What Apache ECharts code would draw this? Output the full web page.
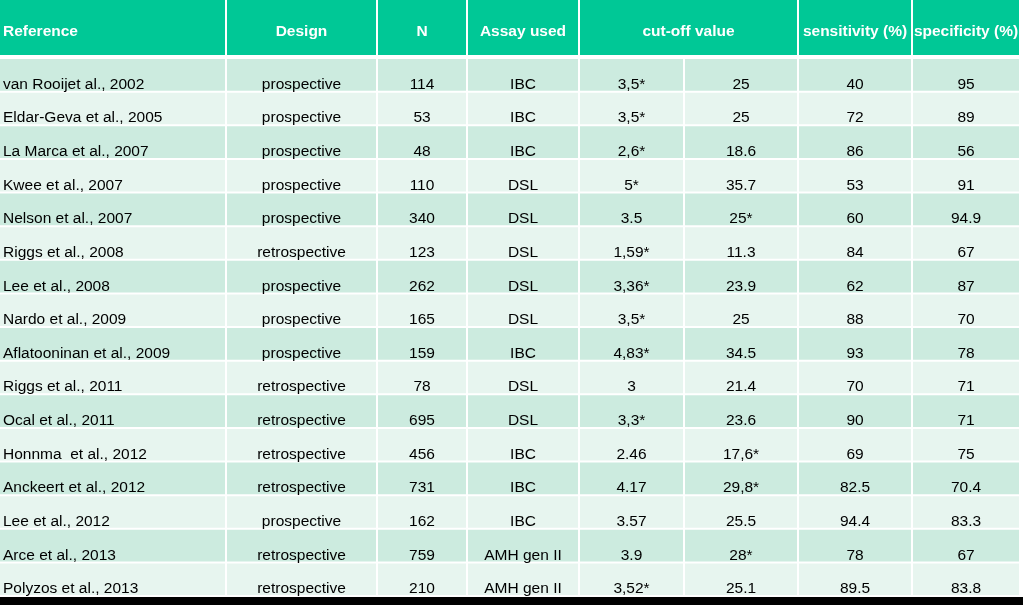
<!DOCTYPE html>
<html>
<head>
<meta charset="utf-8">
<script src="https://cdn.jsdelivr.net/npm/echarts@6/dist/echarts.min.js"></script>
<style>
html,body{margin:0;padding:0;background:#000;}
#chart{width:1023px;height:597px;background:#fff;}
</style>
</head>
<body>
<div id="chart"></div>
<script>
// ---- data ----
const headers = ['Reference', 'Design', 'N', 'Assay used', 'cut-off value', 'sensitivity (%)', 'specificity (%)'];
const references = ['van Rooijet al., 2002', 'Eldar-Geva et al., 2005', 'La Marca et al., 2007', 'Kwee et al., 2007',
  'Nelson et al., 2007', 'Riggs et al., 2008', 'Lee et al., 2008', 'Nardo et al., 2009', 'Aflatooninan et al., 2009',
  'Riggs et al., 2011', 'Ocal et al., 2011', 'Honnma  et al., 2012', 'Anckeert et al., 2012', 'Lee et al., 2012',
  'Arce et al., 2013', 'Polyzos et al., 2013'];
const designs = ['prospective', 'prospective', 'prospective', 'prospective', 'prospective', 'retrospective',
  'prospective', 'prospective', 'prospective', 'retrospective', 'retrospective', 'retrospective', 'retrospective',
  'prospective', 'retrospective', 'retrospective'];
const nValues = [114, 53, 48, 110, 340, 123, 262, 165, 159, 78, 695, 456, 731, 162, 759, 210];
const assays = ['IBC', 'IBC', 'IBC', 'DSL', 'DSL', 'DSL', 'DSL', 'DSL', 'IBC', 'DSL', 'DSL', 'IBC', 'IBC', 'IBC',
  'AMH gen II', 'AMH gen II'];
const cutoffA = ['3,5*', '3,5*', '2,6*', '5*', '3.5', '1,59*', '3,36*', '3,5*', '4,83*', '3', '3,3*', '2.46', '4.17',
  '3.57', '3.9', '3,52*'];
const cutoffB = ['25', '25', '18.6', '35.7', '25*', '11.3', '23.9', '25', '34.5', '21.4', '23.6', '17,6*', '29,8*',
  '25.5', '28*', '25.1'];
const sensitivity = ['40', '72', '86', '53', '60', '84', '62', '88', '93', '70', '90', '69', '82.5', '94.4', '78', '89.5'];
const specificity = ['95', '89', '56', '91', '94.9', '67', '87', '70', '78', '71', '71', '75', '70.4', '83.3', '67', '83.8'];

// ---- layout ----
const colEdges = [0, 227, 378, 468, 580, 685, 799, 913, 1021];
const headerSpans = [[0, 1], [1, 2], [2, 3], [3, 4], [4, 6], [6, 7], [7, 8]];
const GAP = 2;
const HEADER_BG = '#00C896';
const ROW_BG = ['#CCEBDF', '#E7F5EF'];
const FONT = 'Liberation Sans, Arial, sans-serif';

const bodyColumns = [references, designs, nValues, assays, cutoffA, cutoffB, sensitivity, specificity];
const rowIdx = references.map((_, i) => String(i));

const headerData = headers.map((h, i) => [i, 0, h]);
const bodyData = [];
bodyColumns.forEach((col, c) => {
  col.forEach((v, r) => bodyData.push([c, r, String(v)]));
});

function cellRender(isHeader) {
  return function (params, api) {
    const c = api.value(0);
    const r = api.value(1);
    const text = isHeader ? headers[c] : String(bodyColumns[c][r]);
    const span = isHeader ? headerSpans[c] : [c, c + 1];
    const cy = api.coord([0, r])[1];
    const band = api.size([0, 1])[1];
    const x0 = api.coord([colEdges[span[0]], r])[0];
    const x1 = api.coord([colEdges[span[1]] - GAP, r])[0];
    const y0 = cy - band / 2;
    const h = band - GAP;
    const left = span[0] === 0;
    const fill = isHeader ? HEADER_BG : ROW_BG[r % 2];
    const ty = isHeader ? y0 + 31.5 : y0 + 25.5;
    return {
      type: 'group',
      children: [
        { type: 'rect', shape: { x: x0, y: y0, width: x1 - x0, height: h }, style: { fill: fill } },
        {
          type: 'text',
          style: {
            x: left ? x0 + 3 : (x0 + x1) / 2,
            y: ty,
            text: text,
            fill: isHeader ? '#ffffff' : '#000000',
            font: (isHeader ? 'bold ' : '') + '15.5px ' + FONT,
            align: left ? 'left' : 'center',
            verticalAlign: 'middle'
          }
        }
      ]
    };
  };
}

const chart = echarts.init(document.getElementById('chart'), null, { renderer: 'canvas' });
chart.setOption({
  animation: false,
  backgroundColor: '#ffffff',
  grid: [
    { left: 0, right: 0, top: 0, height: 57 },
    { left: 0, right: 0, top: 59, height: 538 }
  ],
  xAxis: [
    { type: 'value', gridIndex: 0, min: 0, max: 1023, show: false },
    { type: 'value', gridIndex: 1, min: 0, max: 1023, show: false }
  ],
  yAxis: [
    { type: 'category', gridIndex: 0, data: ['h'], inverse: true, show: false },
    { type: 'category', gridIndex: 1, data: rowIdx, inverse: true, show: false }
  ],
  series: [
    {
      type: 'custom', xAxisIndex: 0, yAxisIndex: 0, data: headerData,
      encode: { x: 0, y: 1 }, renderItem: cellRender(true), silent: true, clip: false
    },
    {
      type: 'custom', xAxisIndex: 1, yAxisIndex: 1, data: bodyData,
      encode: { x: 0, y: 1 }, renderItem: cellRender(false), silent: true, clip: false
    }
  ]
});
</script>
</body>
</html>
